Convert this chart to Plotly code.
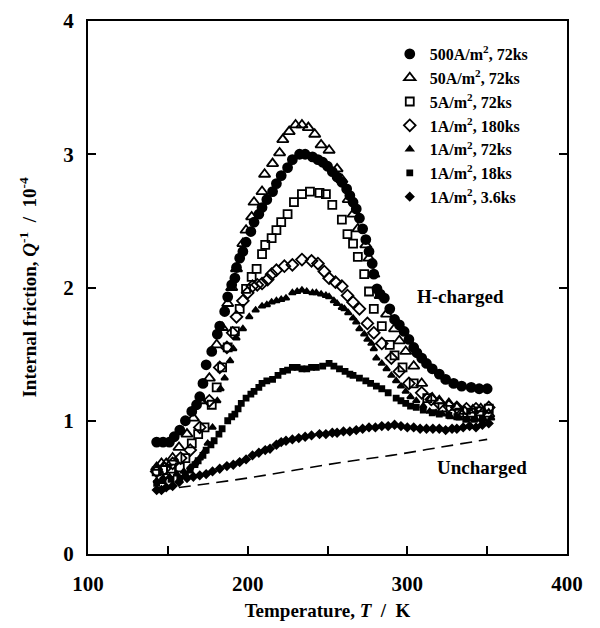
import plotly.graph_objects as go

# 500 A/m2, 72 ks
t_500 = [143, 147, 151, 154, 157.5, 161, 165, 168, 170, 172, 174, 177.5, 181, 182.5, 185.6, 187.5, 190, 192, 193, 195,
         197, 199, 202, 204, 207, 209, 212, 215.6, 218, 221, 225, 228, 232.5, 236, 240.6, 244, 247, 250, 253, 256,
         259, 262, 264, 266, 268, 270, 272, 274, 276, 278, 279, 281, 283, 285.6, 289, 292, 295, 298, 301, 304,
         306, 309, 312, 315.6, 320, 324, 329, 334, 340, 345, 350]
q_500 = [0.84, 0.84, 0.84, 0.88, 0.93, 1.0, 1.07, 1.12, 1.18, 1.28, 1.42, 1.52, 1.65, 1.71, 1.82, 1.93, 2.02, 2.07, 2.15, 2.22,
         2.27, 2.34, 2.42, 2.49, 2.55, 2.6, 2.66, 2.72, 2.78, 2.84, 2.9, 2.96, 3.0, 3.0, 2.98, 2.96, 2.94, 2.91, 2.87, 2.83,
         2.79, 2.74, 2.69, 2.64, 2.59, 2.52, 2.44, 2.36, 2.27, 2.18, 2.10, 1.99, 1.95, 1.92, 1.84, 1.76, 1.72, 1.67, 1.61, 1.55,
         1.51, 1.47, 1.43, 1.39, 1.35, 1.31, 1.28, 1.26, 1.25, 1.24, 1.24]

# 50 A/m2, 72 ks
t_50 = [143, 146, 149, 153, 157, 162, 166, 171, 176, 180.6, 184, 187.5, 190, 193, 197, 199, 202.5, 204, 209, 210.6,
        215.6, 220, 222, 226, 230, 234, 238, 242, 246, 251, 256, 259, 263, 266, 269, 274, 276, 279, 283, 287,
        292, 295, 299, 304, 309, 315.6, 320, 326, 331, 336, 341, 346, 351]
q_50 = [0.65, 0.68, 0.68, 0.72, 0.80, 0.90, 1.02, 1.15, 1.32, 1.57, 1.70, 1.88, 2.0, 2.14, 2.33, 2.43, 2.53, 2.64, 2.72, 2.85,
        2.93, 3.01, 3.11, 3.17, 3.22, 3.22, 3.2, 3.15, 3.07, 3.03, 2.89, 2.81, 2.66, 2.55, 2.44, 2.32, 2.22, 2.10, 1.94, 1.80,
        1.69, 1.60, 1.52, 1.41, 1.28, 1.17, 1.15, 1.13, 1.10, 1.07, 1.08, 1.09, 1.05]

# 5 A/m2, 72 ks
t_5 = [143, 147, 152, 157.5, 161, 165, 169, 173, 177.5, 180.6, 184, 187.5, 192, 195, 199, 202.5, 205.6, 209, 211, 215,
       218, 221, 225, 229, 234, 239, 245, 249, 253, 259, 262.5, 266, 269, 273, 276, 279, 284, 289, 292, 297,
       304, 312.5, 322, 332.5, 340, 345, 351]
q_5 = [0.62, 0.63, 0.64, 0.65, 0.72, 0.83, 0.90, 0.95, 1.12, 1.25, 1.40, 1.55, 1.67, 1.84, 1.99, 2.08, 2.14, 2.25, 2.32, 2.37,
       2.43, 2.49, 2.55, 2.64, 2.70, 2.72, 2.71, 2.70, 2.62, 2.51, 2.40, 2.33, 2.23, 2.10, 1.97, 1.84, 1.71, 1.57, 1.49, 1.40,
       1.28, 1.17, 1.10, 1.06, 1.06, 1.07, 1.09]

# 1 A/m2, 180 ks
t_1_180 = [143, 148, 153, 158, 164, 170, 176, 182.5, 187, 190.6, 193, 197, 200, 203, 206, 209, 212.5, 215, 218, 223,
           228, 234, 240, 244, 248, 251, 255, 259, 262.5, 266, 270, 275, 279, 284, 290, 295, 301, 309, 315, 320,
           326, 331, 337, 343, 351]
q_1_180 = [0.62, 0.64, 0.68, 0.72, 0.78, 0.95, 1.15, 1.40, 1.55, 1.66, 1.78, 1.90, 1.96, 2.01, 2.02, 2.03, 2.06, 2.10, 2.13, 2.16,
           2.17, 2.21, 2.20, 2.18, 2.12, 2.07, 2.04, 2.01, 1.94, 1.89, 1.84, 1.73, 1.66, 1.58, 1.47, 1.37, 1.28, 1.21, 1.16, 1.13,
           1.11, 1.10, 1.09, 1.09, 1.10]

# 1 A/m2, 72 ks
t_1_72 = [143, 147, 151, 155.6, 160, 164, 167, 170, 173, 175, 178, 181, 183, 185.6, 189, 191, 193, 197, 201, 205,
          209, 212, 215, 218, 221, 224, 228, 231, 234, 237, 240.6, 243, 246, 249, 251, 254, 256, 259, 260.6, 263,
          266, 268, 270, 273, 275, 277.5, 279, 280.6, 284, 287, 290, 293, 296, 299, 302, 305.6, 310, 314, 318, 322,
          327, 332.5, 338, 343, 348, 352.5]
q_1_72 = [0.55, 0.57, 0.58, 0.60, 0.62, 0.65, 0.68, 0.72, 0.77, 0.83, 0.95, 1.15, 1.24, 1.32, 1.45, 1.54, 1.62, 1.69, 1.78, 1.83,
          1.86, 1.87, 1.89, 1.90, 1.91, 1.92, 1.96, 1.97, 1.98, 1.97, 1.96, 1.96, 1.95, 1.94, 1.93, 1.90, 1.88, 1.85, 1.84, 1.81,
          1.77, 1.74, 1.69, 1.65, 1.61, 1.58, 1.54, 1.47, 1.43, 1.39, 1.34, 1.30, 1.26, 1.22, 1.18, 1.15, 1.11, 1.07, 1.06, 1.05,
          1.03, 1.02, 1.01, 1.01, 1.01, 1.02]

# 1 A/m2, 18 ks
t_1_18 = [143, 147, 152, 157.5, 161, 164, 167, 169, 172, 174, 177, 179, 182, 184, 187.5, 190, 192, 194, 196, 199,
          202, 204, 207, 209, 212, 215.6, 219, 222, 225, 228, 231, 234, 237, 240, 243, 247, 251, 254, 257.5, 261,
          264, 266, 270, 274, 277, 280.6, 284, 288, 293, 296, 299, 302, 305.6, 310, 315.6, 320, 326, 331, 336.6, 342,
          347]
q_1_18 = [0.53, 0.55, 0.56, 0.57, 0.60, 0.63, 0.67, 0.70, 0.74, 0.78, 0.82, 0.85, 0.90, 0.94, 1.0, 1.03, 1.05, 1.09, 1.13, 1.17,
          1.20, 1.22, 1.25, 1.28, 1.30, 1.31, 1.34, 1.37, 1.38, 1.40, 1.40, 1.39, 1.39, 1.40, 1.40, 1.41, 1.43, 1.41, 1.39, 1.37,
          1.35, 1.34, 1.32, 1.30, 1.28, 1.26, 1.24, 1.21, 1.17, 1.15, 1.13, 1.11, 1.10, 1.08, 1.06, 1.05, 1.04, 1.03, 1.01, 1.01,
          1.01]

# 1 A/m2, 3.6 ks
t_1_3 = [143, 146, 149, 153, 157, 162, 166, 170, 174, 178, 182.5, 187, 191, 195, 199, 203, 207, 211, 214, 218,
         221, 224, 228, 232, 236, 240, 245, 249, 253, 256, 260, 264, 268, 272, 276, 280, 284, 288, 292, 296,
         300, 304, 308, 312, 316, 320, 324, 328, 331, 335, 339, 343, 347, 351]
q_1_3 = [0.48, 0.48, 0.50, 0.51, 0.54, 0.57, 0.58, 0.59, 0.60, 0.62, 0.64, 0.66, 0.67, 0.69, 0.71, 0.74, 0.76, 0.78, 0.79, 0.82,
         0.84, 0.85, 0.86, 0.87, 0.88, 0.89, 0.90, 0.90, 0.91, 0.91, 0.92, 0.92, 0.93, 0.94, 0.95, 0.95, 0.96, 0.96, 0.97, 0.96,
         0.95, 0.95, 0.94, 0.94, 0.94, 0.94, 0.93, 0.94, 0.94, 0.95, 0.96, 0.95, 0.97, 0.98]

# uncharged (dashed line)
t_unch = [145, 170, 200, 230, 260, 290, 320, 350]
q_unch = [0.48, 0.52, 0.57, 0.63, 0.69, 0.74, 0.80, 0.86]

x_ticks = [100, 150, 200, 250, 300, 350, 400]
x_ticktext = ["100", "", "200", "", "300", "", "400"]
y_ticks = [0, 1, 2, 3, 4]

series = [
    ("500A/m<sup>2</sup>, 72ks", t_500, q_500, "circle", 9),
    ("50A/m<sup>2</sup>, 72ks", t_50, q_50, "triangle-up-open", 10),
    ("5A/m<sup>2</sup>, 72ks", t_5, q_5, "square-open", 8),
    ("1A/m<sup>2</sup>, 180ks", t_1_180, q_1_180, "diamond-open", 9),
    ("1A/m<sup>2</sup>, 72ks", t_1_72, q_1_72, "triangle-up", 6),
    ("1A/m<sup>2</sup>, 18ks", t_1_18, q_1_18, "square", 5),
    ("1A/m<sup>2</sup>, 3.6ks", t_1_3, q_1_3, "diamond", 6),
]

fig = go.Figure()
for name, t, q, sym, sz in series:
    fig.add_trace(go.Scatter(
        x=t, y=q, mode="markers", name=name,
        marker=dict(symbol=sym, size=sz, color="black", line=dict(color="black", width=1.8)),
    ))

fig.add_trace(go.Scatter(
    x=t_unch, y=q_unch, mode="lines", showlegend=False,
    line=dict(color="black", width=1.6, dash="12px,7px", shape="spline"),
))

fig.add_annotation(x=333, y=1.93, text="H-charged", showarrow=False,
                   font=dict(size=19, family="Liberation Serif", color="black", weight="bold"))
fig.add_annotation(x=347, y=0.65, text="Uncharged", showarrow=False,
                   font=dict(size=19, family="Liberation Serif", color="black", weight="bold"))

# page body adds an 8px offset, so margins are shifted by that amount
fig.update_layout(
    width=600, height=628,
    margin=dict(l=80, r=41, t=13, b=82),
    paper_bgcolor="white", plot_bgcolor="white",
    font=dict(family="Liberation Serif", color="black", weight="bold"),
    legend=dict(x=0.63, y=0.97, xanchor="left", yanchor="top",
                bgcolor="rgba(0,0,0,0)", font=dict(size=16), itemwidth=30,
                tracegroupgap=0),
)
fig.update_xaxes(
    range=[100, 400], tickvals=x_ticks, ticktext=x_ticktext,
    ticks="inside", ticklen=8, tickwidth=1.6, tickcolor="black",
    showline=True, linewidth=2, linecolor="black", mirror=True,
    showgrid=False, zeroline=False, automargin=False, ticklabeloverflow="allow",
    tickfont=dict(size=21), ticklabelstandoff=10,
    title=dict(text="Temperature, <i>T</i>  /  K", font=dict(size=19), standoff=8),
)
fig.update_yaxes(
    range=[0, 4], tickvals=y_ticks,
    ticks="inside", ticklen=8, tickwidth=1.6, tickcolor="black",
    showline=True, linewidth=2, linecolor="black", mirror="ticks",
    showgrid=False, zeroline=False, automargin=False, ticklabeloverflow="allow",
    tickfont=dict(size=21), ticklabelstandoff=8,
    title=dict(text="Internal friction, <i>Q</i><sup>-1</sup>  /  10<sup>-4</sup>",
               font=dict(size=19), standoff=22),
)

fig.write_html("out.html")
